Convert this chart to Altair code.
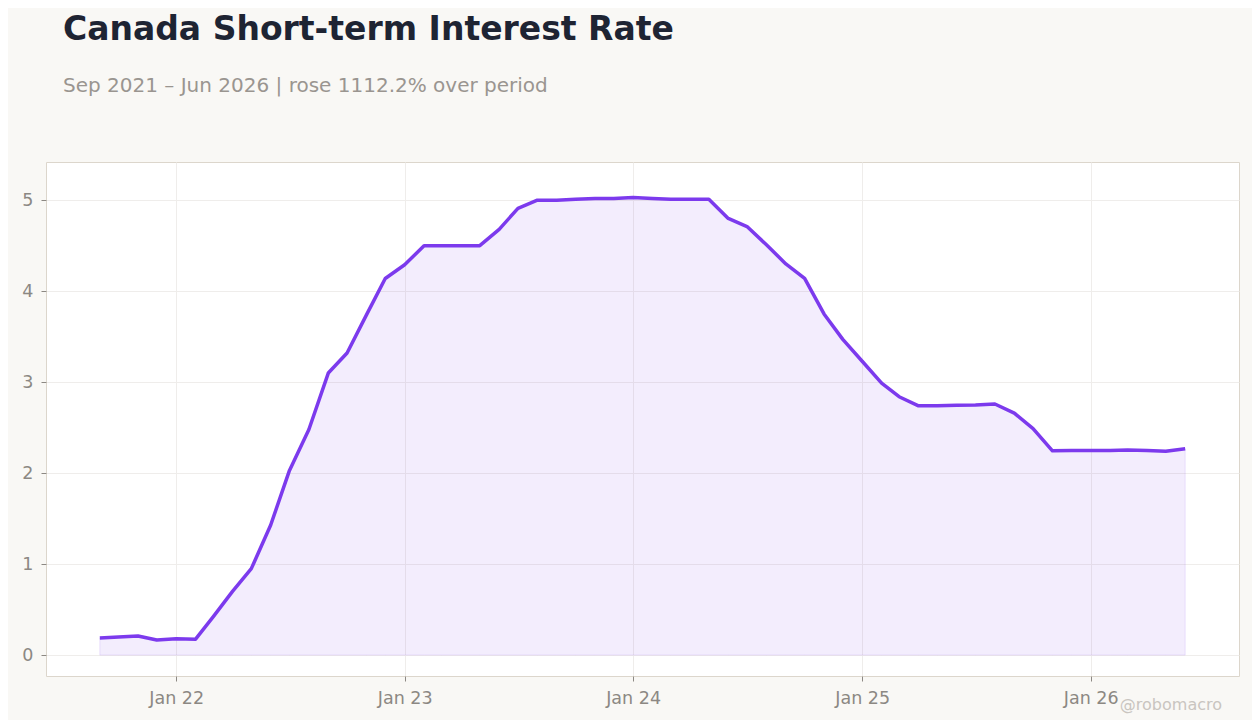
import altair as alt
import pandas as pd

# monthly observations, Sep 2021 -> Jun 2026
months = pd.date_range("2021-09-01", periods=58, freq="MS").strftime("%Y-%m-%dT00:00:00").tolist()
rate = [
    0.187, 0.20, 0.21, 0.165,
    0.18, 0.175, 0.42, 0.70, 0.95, 1.43, 2.03, 2.48, 3.10, 3.32, 3.74, 4.14,
    4.29, 4.50, 4.50, 4.50, 4.50, 4.68, 4.91, 5.00, 5.00, 5.01, 5.02, 5.02,
    5.03, 5.02, 5.01, 5.01, 5.01, 4.80, 4.71, 4.51, 4.30, 4.14, 3.75, 3.47,
    3.23, 2.99, 2.84, 2.74, 2.74, 2.745, 2.75, 2.76, 2.66, 2.49, 2.245, 2.25,
    2.25, 2.25, 2.255, 2.25, 2.24, 2.267,
]
year_ticks = [2022, 2023, 2024, 2025, 2026]
y_ticks = [0, 1, 2, 3, 4, 5]

df = pd.DataFrame({"date": months, "rate": rate})

LINE = "#7c3aed"
LABEL = "#8c8883"

x_enc = alt.X(
    "date:T",
    title=None,
    scale=alt.Scale(domain=[alt.DateTime(year=2021, month=6, date=7),
                            alt.DateTime(year=2026, month=8, date=26)]),
    axis=alt.Axis(
        values=[alt.DateTime(year=y, month=1, date=1) for y in year_ticks],
        format="%b %y",
        labelPadding=8,
    ),
)
y_enc = alt.Y(
    "rate:Q",
    title=None,
    scale=alt.Scale(domain=[-0.23, 5.42], nice=False, zero=False),
    axis=alt.Axis(values=y_ticks, format="d", labelPadding=8),
)

base = alt.Chart(df)

area = base.mark_area(
    color=LINE, fillOpacity=0.09, stroke=LINE, strokeOpacity=0.12, strokeWidth=1
).encode(x=x_enc, y=y_enc, y2=alt.datum(0))

line = base.mark_line(color=LINE, strokeWidth=3.5, strokeJoin="round").encode(
    x="date:T", y="rate:Q"
)

# small credit in the bottom right corner
credit = alt.Chart(pd.DataFrame({"t": ["@robomacro"]})).mark_text(
    align="right", baseline="alphabetic", fontSize=16, color="#c9c5c0"
).encode(text="t:N", x=alt.value(1176), y=alt.value(548))

chart = (area + line + credit).properties(
    width=1193,
    height=514,
    padding={"left": 38, "top": 154, "right": 13, "bottom": 44},
    autosize=alt.AutoSizeParams(type="none"),
    title=alt.TitleParams(
        text="Canada Short-term Interest Rate",
        subtitle="Sep 2021 \u2013 Jun 2026 | rose 1112.2% over period",
        anchor="start",
        frame="group",
        dx=17,
        offset=66,
        fontSize=33,
        fontWeight="bold",
        color="#1e2433",
        subtitleFontSize=20,
        subtitleColor="#9a9590",
        subtitlePadding=29,
    ),
).configure(
    background="#f9f8f5",
    font="DejaVu Sans",
).configure_view(
    fill="white", stroke="#dcd6cc", strokeWidth=1
).configure_axis(
    domain=False,
    gridColor="#efedeb",
    gridWidth=1,
    tickColor=LABEL,
    tickSize=5,
    labelColor=LABEL,
    labelFontSize=17.5,
    labelFont="DejaVu Sans",
)

chart.save("out.html", embed_options={"renderer": "svg", "actions": False})
